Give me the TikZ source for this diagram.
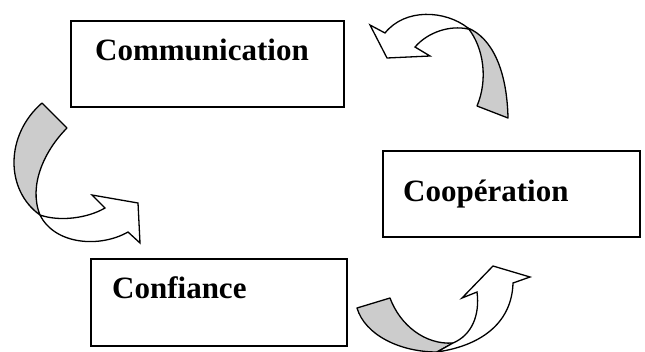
\documentclass[tikz,border=0pt]{standalone}
\usepackage{fontspec}
\setmainfont{Liberation Serif}
\begin{document}
\begin{tikzpicture}[x=1pt,y=-1pt,
  box/.style={draw,line width=1.5pt,rectangle,inner sep=0pt},
  lbl/.style={anchor=base west,inner sep=0pt,font=\fontsize{31}{31}\selectfont\bfseries},
  back/.style={draw,line width=1.3pt,fill=black!20,line join=round},
  front/.style={draw,line width=1.3pt,fill=white,line join=miter}]
\useasboundingbox (0,0) rectangle (645,351);
\begin{scope}
\clip (0,0) rectangle (645,351);
% boxes
\node[box,minimum width=273pt,minimum height=86pt] (comm) at (207.5,64) {};
\node[box,minimum width=257pt,minimum height=86pt] (coop) at (511.5,194) {};
\node[box,minimum width=256pt,minimum height=87pt] (conf) at (219,302.5) {};
\node[lbl] (commt) at (95,60) {Communication};
\node[lbl] (coopt) at (403,201) {Coopération};
\node[lbl] (conft) at (112,298) {Confiance};
% arrow 1 (top right)
\draw[back] (468,28) .. controls (492,38) and (507,70) .. (508,118)
  -- (477,106) .. controls (488,80) and (484,48) .. (468,28) -- cycle;
\draw[front] (468,28) .. controls (445,10) and (405,8) .. (385,33)
  -- (370,25) -- (387,58) -- (430,56) -- (415,47)
  .. controls (428,32) and (450,25) .. (468,29) -- cycle;
% arrow 2 (left)
\draw[back] (42,103) -- (67,128) .. controls (45,150) and (28,185) .. (40,215)
  .. controls (5,190) and (5,135) .. (42,103) -- cycle;
\draw[front] (40,215) .. controls (60,222) and (88,218) .. (105,208)
  -- (92,195) -- (138,203) -- (140,243) -- (128,232)
  .. controls (100,248) and (55,245) .. (40,215) -- cycle;
% arrow 3 (bottom)
\draw[back] (357,308) -- (390,298) .. controls (400,325) and (425,345) .. (453,343)
  -- (437,352) .. controls (400,352) and (365,335) .. (357,308) -- cycle;
\draw[front] (437,352) .. controls (485,345) and (512,320) .. (513,283)
  -- (530,277) -- (493,266) -- (462,298) -- (477,292)
  .. controls (480,315) and (472,335) .. (453,343) -- cycle;
\end{scope}
\end{tikzpicture}
\end{document}
